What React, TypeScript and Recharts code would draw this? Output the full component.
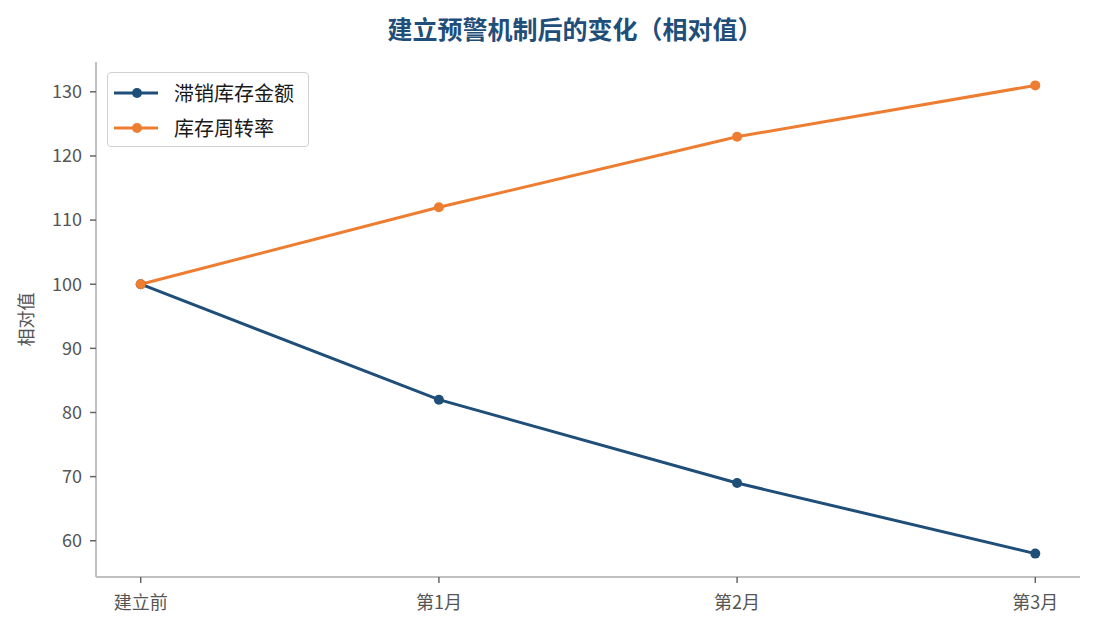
import React from 'react';
import { LineChart, Line, XAxis, YAxis } from 'recharts';

const categories = ['建立前', '第1月', '第2月', '第3月'];
const slowStock = [100, 82, 69, 58];
const turnover = [100, 112, 123, 131];
const yTicks = [60, 70, 80, 90, 100, 110, 120, 130];

const data = categories.map((c, i) => ({ x: i, name: c, slow: slowStock[i], turn: turnover[i] }));

const FONT = '"Noto Sans CJK SC", "Noto Sans", sans-serif';
const NAVY = '#1f4e79';
const ORANGE = '#ed7d31';

const LegendBox = () => (
  <div
    style={{
      position: 'absolute',
      left: 107,
      top: 72,
      height: 75,
      border: '1px solid #d0d0d0',
      borderRadius: 4,
      background: '#fff',
      padding: '2px 6px 2px 5px',
      fontFamily: FONT,
      fontSize: 20,
      color: '#1a1a1a',
      width: 202,
      boxSizing: 'border-box',
      zIndex: 2,
    }}
  >
    {[
      { label: '滞销库存金额', color: NAVY },
      { label: '库存周转率', color: ORANGE },
    ].map((it) => (
      <div key={it.label} style={{ display: 'flex', alignItems: 'center', height: 35, whiteSpace: 'nowrap' }}>
        <svg width={46} height={14} style={{ marginRight: 15, flex: 'none' }}>
          <line x1={1} y1={7} x2={45} y2={7} stroke={it.color} strokeWidth={3} />
          <circle cx={24} cy={7} r={5} fill={it.color} />
        </svg>
        <span>{it.label}</span>
      </div>
    ))}
  </div>
);

export default function App() {
  return (
    <div style={{ position: 'absolute', left: 0, top: 0, width: 1095, height: 630, background: '#fff' }}>
      <div
        style={{
          position: 'absolute',
          left: 0,
          width: 1150,
          top: 10,
          textAlign: 'center',
          fontFamily: FONT,
          fontWeight: 700,
          fontSize: 25,
          lineHeight: '36px',
          color: NAVY,
        }}
      >
        建立预警机制后的变化（相对值）
      </div>
      <LegendBox />
      <LineChart width={1095} height={630} data={data} margin={{ top: 62, right: 15, bottom: 0, left: 0 }}>
        <XAxis
          dataKey="x"
          type="number"
          domain={[-0.15, 3.15]}
          ticks={[0, 1, 2, 3]}
          tickFormatter={(v: number) => categories[v]}
          height={53}
          stroke="#c0c0c0"
          strokeWidth={2}
          tickSize={6}
          tickMargin={13}
          tick={{ fill: '#555', fontSize: 18, fontFamily: FONT }}
          tickLine={{ stroke: '#666', strokeWidth: 1.5 }}
          interval={0}
        />
        <YAxis
          type="number"
          domain={[54.35, 134.65]}
          ticks={yTicks}
          width={96}
          stroke="#c0c0c0"
          strokeWidth={2}
          tickSize={6}
          tickMargin={8}
          tick={{ fill: '#555', fontSize: 18, fontFamily: FONT }}
          tickLine={{ stroke: '#666', strokeWidth: 1.5 }}
          allowDataOverflow
          label={{
            value: '相对值',
            angle: -90,
            position: 'insideLeft',
            offset: 27,
            style: { fill: '#555', fontSize: 18, fontFamily: FONT, textAnchor: 'middle' },
          }}
        />
        <Line
          dataKey="slow"
          stroke={NAVY}
          strokeWidth={3}
          dot={{ r: 5, fill: NAVY, stroke: NAVY, strokeWidth: 0 }}
          isAnimationActive={false}
        />
        <Line
          dataKey="turn"
          stroke={ORANGE}
          strokeWidth={3}
          dot={{ r: 5, fill: ORANGE, stroke: ORANGE, strokeWidth: 0 }}
          isAnimationActive={false}
        />
      </LineChart>
    </div>
  );
}
